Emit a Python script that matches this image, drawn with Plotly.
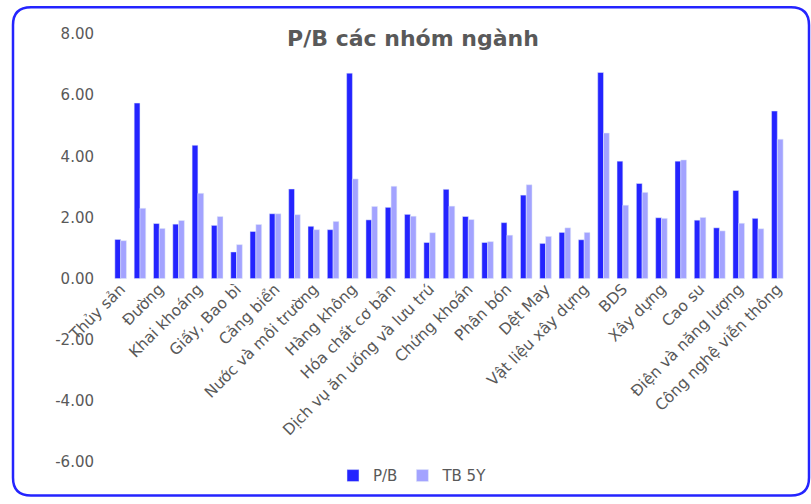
import plotly.graph_objects as go

# Nhãn hiển thị trên trục (Excel chỉ hiện 1 nhãn cho mỗi 2 nhóm ngành)
NHAN_HIEN_THI = [
    "Thủy sản", "Đường", "Khai khoáng", "Giấy, Bao bì", "Cảng biển",
    "Nước và môi trường", "Hàng không", "Hóa chất cơ bản",
    "Dịch vụ ăn uống và lưu trú", "Chứng khoán", "Phân bón", "Dệt May",
    "Vật liệu xây dựng", "BDS", "Xây dựng", "Cao su",
    "Điện và năng lượng", "Công nghệ viễn thông",
]

PB = [
    1.28, 5.74, 1.80, 1.78, 4.36, 1.74, 0.87, 1.54, 2.12, 2.93, 1.71, 1.60,
    6.72, 1.92, 2.33, 2.10, 1.18, 2.92, 2.03, 1.18, 1.83, 2.73, 1.15, 1.51,
    1.27, 6.74, 3.84, 3.11, 1.99, 3.84, 1.91, 1.66, 2.88, 1.97, 5.48,
]
TB_5Y = [
    1.24, 2.30, 1.64, 1.90, 2.79, 2.03, 1.11, 1.77, 2.12, 2.09, 1.60, 1.87,
    3.26, 2.36, 3.02, 2.04, 1.50, 2.37, 1.93, 1.21, 1.42, 3.07, 1.38, 1.66,
    1.51, 4.76, 2.40, 2.82, 1.97, 3.88, 2.00, 1.56, 1.81, 1.63, 4.56,
]

Y_TICKS = [-6, -4, -2, 0, 2, 4, 6, 8]

X = list(range(len(PB)))

W, H = 811, 504
ML, MR, MT, MB = 111, 24, 34, 37
PW, PH = W - ML - MR, H - MT - MB

XANH = "#2424FF"
XANH_NHAT = "#A3A3FF"
CHU = "#595959"


def px(x):
    return (x - ML) / PW


def py(y):
    return (H - MB - y) / PH


def khung_bo_goc(x0, y0, x1, y1, r):
    """Đường viền chữ nhật bo góc, toạ độ pixel -> paper."""
    pts = [
        f"M {px(x0 + r)},{py(y0)}",
        f"L {px(x1 - r)},{py(y0)}",
        f"Q {px(x1)},{py(y0)} {px(x1)},{py(y0 + r)}",
        f"L {px(x1)},{py(y1 - r)}",
        f"Q {px(x1)},{py(y1)} {px(x1 - r)},{py(y1)}",
        f"L {px(x0 + r)},{py(y1)}",
        f"Q {px(x0)},{py(y1)} {px(x0)},{py(y1 - r)}",
        f"L {px(x0)},{py(y0 + r)}",
        f"Q {px(x0)},{py(y0)} {px(x0 + r)},{py(y0)}",
        "Z",
    ]
    return " ".join(pts)


fig = go.Figure()
fig.add_trace(go.Bar(x=X, y=PB, name="P/B", marker_color=XANH))
fig.add_trace(go.Bar(x=X, y=TB_5Y, name="TB 5Y", marker_color=XANH_NHAT))

fig.update_layout(
    width=W,
    height=H,
    margin=dict(l=ML, r=MR, t=MT, b=MB),
    barmode="group",
    bargap=0.4,
    bargroupgap=0,
    paper_bgcolor="white",
    plot_bgcolor="white",
    font=dict(family="DejaVu Sans", size=14, color=CHU),
    title=dict(
        text="<b>P/B các nhóm ngành</b>",
        x=413 / W,
        xanchor="center",
        y=1 - 38 / H,
        yanchor="middle",
        font=dict(size=22, color=CHU),
    ),
    legend=dict(
        orientation="h",
        x=px(413),
        xanchor="center",
        y=py(481),
        yanchor="middle",
        font=dict(size=15, color=CHU),
        itemwidth=30,
        tracegroupgap=0,
    ),
    showlegend=True,
)

fig.update_yaxes(
    range=[-6, 8],
    tickmode="array",
    tickvals=Y_TICKS,
    ticktext=[f"{v:.2f}" for v in Y_TICKS],
    showgrid=False,
    zeroline=False,
    showline=False,
    ticks="",
    ticklabelstandoff=16,
    tickfont=dict(size=15, color=CHU),
)

fig.update_xaxes(
    range=[-0.5, len(PB) - 0.5],
    tickmode="array",
    tickvals=X[::2],
    ticktext=NHAN_HIEN_THI,
    tickangle=-45,
    anchor="free",
    position=py(279),
    showgrid=False,
    zeroline=False,
    showline=False,
    ticks="",
    tickfont=dict(size=15.5, color=CHU),
)

fig.add_shape(
    type="path",
    xref="paper",
    yref="paper",
    path=khung_bo_goc(13, 7, 809, 501, 18),
    line=dict(color=XANH, width=2.5),
    layer="above",
)

# bỏ lề mặc định của trang để hình nằm đúng vị trí
fig.write_html(
    "out.html",
    config={"displayModeBar": False},
    post_script="document.body.style.margin = '0';",
)
